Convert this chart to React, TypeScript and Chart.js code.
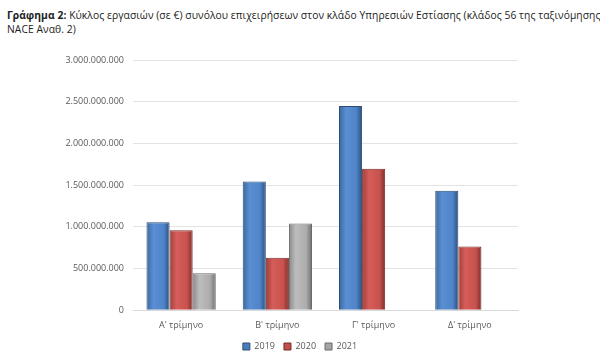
import React, { useEffect, useRef } from "react";
import { Chart, registerables } from "chart.js";

Chart.register(...registerables);

const categories = ["Α' τρίμηνο", "Β' τρίμηνο", "Γ' τρίμηνο", "Δ' τρίμηνο"];
const values2019 = [1056000000, 1544000000, 2448000000, 1432000000];
const values2020 = [960000000, 628000000, 1696000000, 764000000];
const values2021 = [444000000, 1040000000, null, null];
const seriesLabels = ["2019", "2020", "2021"];
const yTicks = [0, 500000000, 1000000000, 1500000000, 2000000000, 2500000000, 3000000000];

const fmt = (v: number) => String(Math.round(v)).replace(/\B(?=(\d{3})+(?!\d))/g, ".");

const CAT_PCT = 0.72;

export default function App() {
  const ref = useRef<HTMLCanvasElement | null>(null);
  useEffect(() => {
    document.body.style.margin = "0";
    const colors = ["#4a7ebb", "#c0504d", "#a5a5a5"];
    const stops = [
      ["#3b679f", "#5a8fd3", "#4f84c8", "#2c4f7e"],
      ["#9f3d3a", "#d65d59", "#c8524e", "#7d2f2c"],
      ["#8a8a8a", "#bdbdbd", "#acacac", "#6e6e6e"],
    ];
    const borders = ["#2c4d75", "#772c2a", "#6b6b6b"];
    const data = [values2019, values2020, values2021];
    const grad = (c: any) => {
      const di = c.datasetIndex;
      const chart = c.chart;
      const xs = chart.scales && chart.scales.x;
      if (!xs || c.type !== "data") return colors[di];
      const catW = xs.width / categories.length;
      const w = (catW * CAT_PCT) / 3;
      const center = xs.getPixelForValue(c.dataIndex);
      const left = center - 1.5 * w + di * w;
      if (!isFinite(left)) return colors[di];
      const g = chart.ctx.createLinearGradient(left, 0, left + w, 0);
      const s = stops[di];
      g.addColorStop(0, s[0]);
      g.addColorStop(0.3, s[1]);
      g.addColorStop(0.75, s[2]);
      g.addColorStop(1, s[3]);
      return g;
    };
    const chart = new Chart(ref.current as HTMLCanvasElement, {
      type: "bar",
      data: {
        labels: categories,
        datasets: seriesLabels.map((l, i) => ({
          label: l,
          data: data[i],
          backgroundColor: grad,
          borderColor: borders[i],
          borderWidth: 1,
        })),
      },
      options: {
        animation: false,
        responsive: false,
        datasets: { bar: { barPercentage: 1, categoryPercentage: CAT_PCT } },
        layout: { padding: { top: 60, bottom: 0, left: 0, right: 0 } },
        plugins: {
          tooltip: { enabled: false },
          legend: {
            position: "bottom",
            labels: {
              boxWidth: 7,
              boxHeight: 7,
              padding: 9,
              color: "#595959",
              font: { family: "Open Sans", size: 9 },
              generateLabels: (ch: any) =>
                ch.data.datasets.map((d: any, i: number) => ({
                  text: d.label,
                  fillStyle: colors[i],
                  strokeStyle: borders[i],
                  lineWidth: 1,
                  fontColor: "#595959",
                  hidden: false,
                  datasetIndex: i,
                })),
            },
          },
        },
        scales: {
          x: {
            grid: { display: false },
            border: { display: true, color: "#d9d9d9" },
            ticks: { color: "#595959", font: { family: "Open Sans", size: 9 }, padding: 2 },
          },
          y: {
            min: 0,
            max: 3000000000,
            afterBuildTicks: (s: any) => {
              s.ticks = yTicks.map((v) => ({ value: v }));
            },
            afterFit: (s: any) => {
              s.width = 133;
            },
            grid: { color: "#e3e3e3", drawTicks: false },
            border: { display: false },
            ticks: {
              color: "#595959",
              font: { family: "Open Sans", size: 9 },
              padding: 9,
              callback: (v: any) => fmt(Number(v)),
            },
          },
          y2: {
            position: "right",
            display: true,
            grid: { display: false },
            border: { display: false },
            ticks: { display: false },
            afterFit: (s: any) => {
              s.width = 82;
            },
          },
        },
      },
    });
    return () => chart.destroy();
  }, []);
  return (
    <div style={{ position: "relative", width: 600, height: 361, background: "#fff", overflow: "hidden" }}>
      <div
        style={{
          position: "absolute",
          left: 7,
          top: 8,
          fontFamily: "Open Sans",
          fontSize: 10.3,
          letterSpacing: "0.07px",
          lineHeight: "14px",
          color: "#222",
          whiteSpace: "nowrap",
        }}
      >
        <b>Γράφημα 2:</b> Κύκλος εργασιών (σε €) συνόλου επιχειρήσεων στον κλάδο Υπηρεσιών Εστίασης (κλάδος 56 της ταξινόμησης
        <br />
        NACE Αναθ. 2)
      </div>
      <canvas ref={ref} width={600} height={361} style={{ position: "absolute", left: 0, top: 0 }} />
    </div>
  );
}
